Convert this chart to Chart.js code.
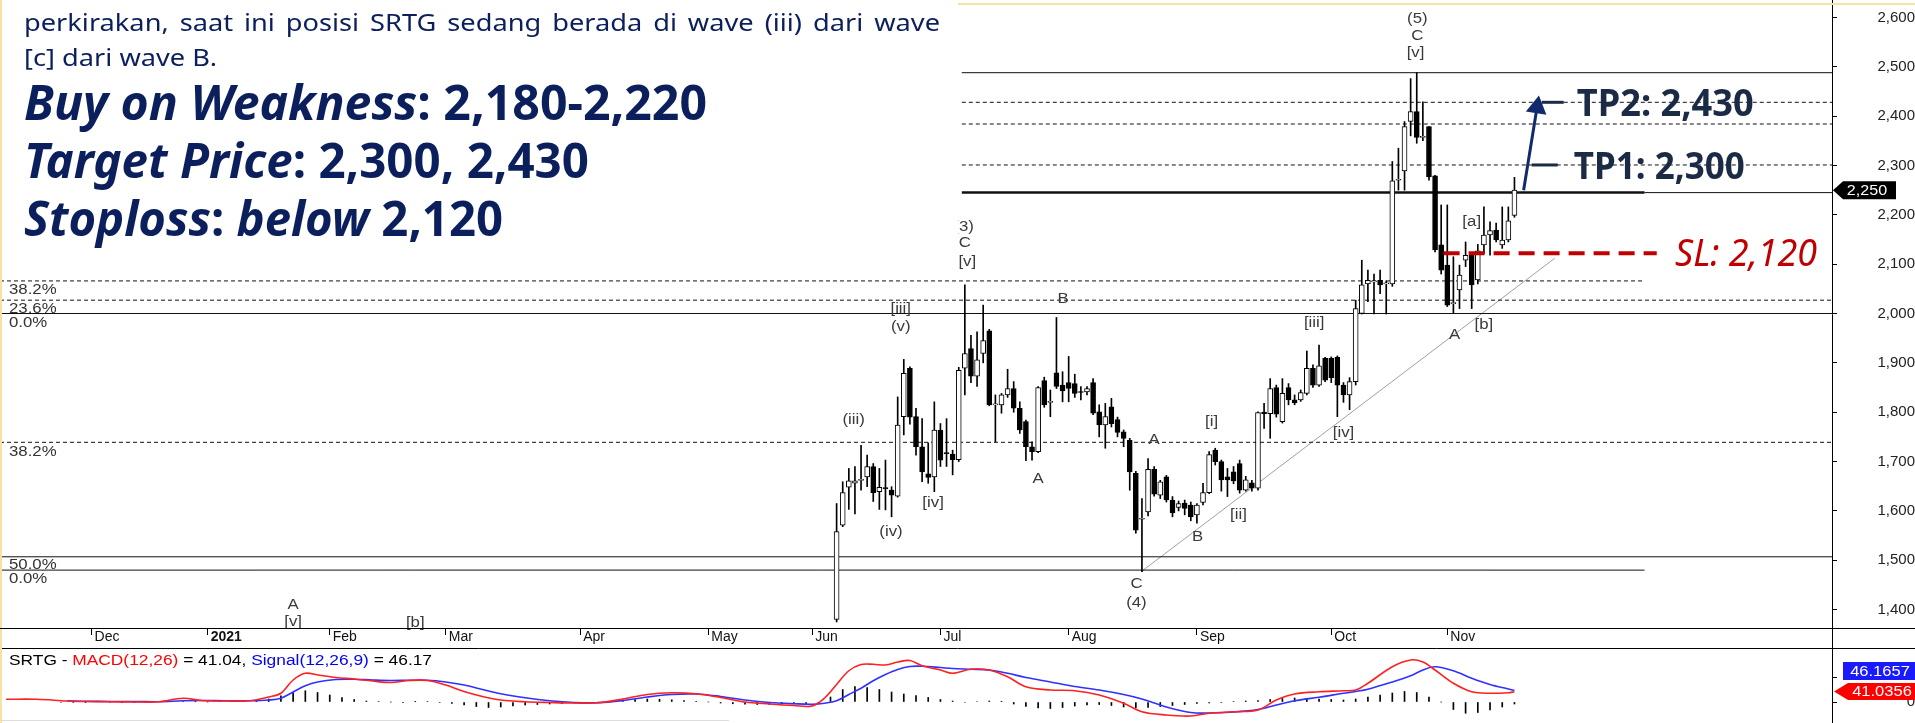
<!DOCTYPE html>
<html>
<head>
<meta charset="utf-8">
<script src="https://cdn.jsdelivr.net/npm/chart.js@4.4.1/dist/chart.umd.min.js"></script>
<style>
  html, body { margin: 0; padding: 0; background: #fff; overflow: hidden; }
  #wrap { position: relative; width: 1915px; height: 723px; overflow: hidden; }
  #price { position: absolute; left: 0; top: 0; }
  #macd { position: absolute; left: 0; top: 648px; }
</style>
</head>
<body>
<div id="wrap">
  <canvas id="price" width="1915" height="648"></canvas>
  <canvas id="macd" width="1915" height="75"></canvas>
</div>
<script>
// x values are trading-day numbers counted from the left edge of the chart (mid Nov 2020)
var monthIdx = [15, 34, 54, 73, 95, 116, 133, 154, 175, 196, 218, 237];
var monthNames = ['Dec', '2021', 'Feb', 'Mar', 'Apr', 'May', 'Jun', 'Jul', 'Aug', 'Sep', 'Oct', 'Nov'];
var priceTicks = [1400, 1500, 1600, 1700, 1800, 1900, 2000, 2100, 2200, 2300, 2400, 2500, 2600];

// SRTG daily candles, first one on day 137 (early June 2021)
var firstBar = 137;
var opens = [1380,1571,1648,1656,1662,1669,1690,1639,1646,1642,1630,1791,1889,1791,1730,1675,1669,1764,1717,1715,
  1704,1889,1929,1873,1919,1965,1815,1815,1835,1848,1808,1781,1730,1720,1864,1820,1880,1855,1860,1858,
  1841,1841,1860,1801,1774,1811,1785,1760,1743,1676,1583,1598,1684,1632,1669,1622,1607,1616,1612,1592,
  1617,1637,1723,1700,1669,1679,1696,1642,1657,1646,1800,1797,1850,1781,1850,1825,1825,1838,1889,1855,
  1909,1909,1911,1855,1835,1862,2000,2060,2064,2067,2060,2060,2270,2289,2389,2409,2357,2379,2279,2139,
  2098,2020,2048,2108,2118,2068,2139,2159,2169,2139,2149,2199];
var highs = [1615,1659,1686,1690,1733,1713,1696,1686,1703,1649,1831,1907,1892,1808,1787,1738,1821,1777,1787,1723,
  1891,2058,1956,1963,2017,1968,1835,1838,1887,1862,1821,1784,1740,1852,1871,1845,1992,1882,1913,1877,
  1852,1852,1868,1815,1818,1828,1790,1764,1747,1680,1625,1706,1690,1662,1672,1629,1620,1622,1618,1615,
  1656,1720,1727,1703,1686,1690,1703,1670,1662,1801,1818,1868,1855,1868,1858,1835,1845,1924,1896,1936,
  1911,1912,1914,1860,1870,2027,2108,2088,2080,2088,2066,2308,2335,2389,2476,2488,2429,2379,2280,2220,
  2220,2115,2098,2145,2122,2140,2216,2186,2183,2216,2216,2276];
var lows = [1375,1568,1603,1594,1642,1649,1619,1603,1602,1588,1628,1754,1776,1713,1659,1656,1639,1690,1690,1673,
  1700,1835,1860,1852,1900,1813,1740,1798,1830,1800,1757,1702,1703,1718,1810,1791,1848,1821,1821,1830,
  1825,1835,1795,1750,1727,1770,1750,1730,1642,1555,1477,1590,1630,1625,1618,1588,1600,1592,1580,1575,
  1612,1635,1693,1640,1629,1655,1636,1640,1640,1642,1767,1747,1790,1778,1815,1815,1822,1835,1850,1852,
  1862,1860,1791,1820,1805,1855,1999,2024,1999,2040,1999,2055,2250,2250,2360,2345,2350,2270,2125,2080,
  2014,2001,2010,2095,2010,2060,2122,2118,2145,2132,2145,2195];
var closes = [1558,1637,1661,1661,1663,1690,1637,1648,1645,1632,1774,1879,1790,1730,1679,1668,1764,1703,1716,1704,
  1885,1919,1873,1906,1945,1815,1815,1835,1848,1808,1764,1730,1720,1850,1815,1821,1852,1843,1848,1838,
  1840,1848,1798,1774,1791,1777,1759,1747,1679,1561,1584,1684,1634,1659,1622,1596,1615,1605,1588,1612,
  1637,1714,1700,1663,1663,1661,1642,1663,1646,1799,1797,1848,1796,1838,1825,1819,1840,1889,1855,1894,
  1865,1870,1855,1835,1862,2010,2058,2067,2065,2058,2060,2269,2272,2379,2409,2357,2357,2277,2129,2088,
  2017,2020,2078,2118,2058,2127,2159,2168,2149,2149,2188,2250];

// horizontal retracement / target levels
var levelPrices = [2488, 2428, 2384, 2301, 2245, 2245, 2066, 2027, 2000, 1739, 1507, 1480];
var levelStart  = [157.5, 157.5, 157.5, 157.5, 157.5, 269.3, 0, 0, 0, 0, 0, 0];
var levelEnd    = [300, 300, 300, 300, 269.3, 300, 269.3, 300, 300, 300, 300, 269.3];

var fibText  = ['38.2%', '23.6%', '0.0%', '38.2%', '50.0%', '0.0%'];
var fibPrice = [2047, 2009, 1981, 1720, 1491, 1461];

var trendX = [187, 254.6];
var trendY = [1478, 2112];
var slX = [236.4, 271.3];
var slPrice = 2122;
var arrowX = [249.5, 251.7];
var arrowY = [2250, 2418];

var waveText = ['(5)','C','[v]','(3)','C','[v]','[iii]','(v)','(iii)','(iv)','[iv]','B','A','A','C','(4)','[i]','B','[ii]','[iii]','[iv]','A','[b]','[a]','A','[v]','[b]'];
var waveX = [232.1,232.1,231.8,157.8,158.0,158.4,147.5,147.5,139.8,145.9,152.8,174.1,170.0,189.0,186.1,186.1,198.4,196.1,202.8,215.2,220.0,238.2,243.0,241.0,48.0,48.0,68.0];
var waveY = [2597,2562,2528,2175,2143,2104,2009,1973,1784,1557,1616,2029,1665,1744,1452,1413,1780,1547,1592,1981,1758,1956,1977,2185,1409,1375,1373];

var tpText = ['TP2: 2,430', 'TP1: 2,300'];
var tpLevel = [2428, 2301];
var slText = 'SL: 2,120';
var lastClose = '2,250';

// MACD(12,26) and signal, read every few days
var macdX = [1,6,11,14,18,22,26,30,33,37,41,44,46,48,50,52,55,58,61,64,67,70,73,76,79,82,86,90,94,98,
  102,106,110,114,118,122,126,130,133,135,137,139,141,143,145,147,149,151,154,156,159,162,165,168,172,176,180,184,187,191,
  195,198,202,206,209,212,216,220,222,224,228,231,233,235,238,241,244,247,248];
var macdLine = [11,11,4,2,1,0,1,15,6,4,5,20,35,88,115,108,98,92,84,78,86,86,68,42,22,8,1,-2,-4,-3,
  12,30,37,33,18,0,-8,-14,-16,15,70,125,150,151,148,160,166,145,128,115,131,128,101,61,48,45,28,-5,-39,-52,
  -56,-45,-39,-32,8,32,41,45,48,75,141,168,160,128,75,41,35,37,41];
var signalLine = [null,null,5,3,2,2,1,5,6,5,5,8,15,40,65,80,90,91,88,86,87,87,80,68,50,33,17,5,-2,-3,
  6,20,30,32,22,8,-2,-7,-9,-5,5,30,55,85,110,130,142,143,138,134,131,128,115,98,80,62,48,30,12,-20,
  -42,-44,-40,-30,-12,5,19,35,42,51,80,105,128,141,125,95,70,52,46];
// histogram, every second day from day 10
var histStart = 10;
var histValues = [-2,-2,-1,2,-2,-1,-1,0,2,3,2,1,0,1,2,3,4, 12,25,38,45,38,28,18,10,4, 2,0,-1,1,2,-2,-6,
  -12,-18,-22,-20,-16,-12,-10,-8, -6,-4,-2,0,4, 8,10,12,11,9,6,3,0, -4,-7,-9,-10,-10,-9,-8,-7,-5,
  20,50,62,58,50,40,32,26, 18,10,4,-2,2,4,3, -8,-18,-24,-26,-22,-16,-12,-10, -14,-20,-24,-22,-18,-14,-10,-6,-4,
  -2,2,4,6,10,14,16, 14,12,10,8,12,20,28, 36,42,38,20,0, -30,-45,-42,-32,-20,-8];

var introLines = ['perkirakan, saat ini posisi SRTG sedang berada di wave (iii) dari wave', '[c] dari wave B.'];

var INK = '#0B1F5C';
var SMALL = '14px "Liberation Sans", Arial, sans-serif';

function stretchText(ctx, str, x, y, sx, align) {
  ctx.save();
  ctx.translate(x, y);
  ctx.scale(sx, 1);
  ctx.textAlign = align || 'left';
  ctx.fillText(str, 0, 0);
  ctx.restore();
}

// segments: [text, font, color]; squeezed or stretched to a target width
function richLine(ctx, segs, x, y, targetW) {
  var total = 0, widths = [];
  segs.forEach(function(s) { ctx.font = s[1]; var w = ctx.measureText(s[0]).width; widths.push(w); total += w; });
  ctx.save();
  ctx.translate(x, y);
  ctx.scale(targetW / total, 1);
  ctx.textAlign = 'left';
  var cx = 0;
  segs.forEach(function(s, i) { ctx.font = s[1]; ctx.fillStyle = s[2]; ctx.fillText(s[0], cx, 0); cx += widths[i]; });
  ctx.restore();
}

function justify(ctx, str, x, y, width, sx) {
  var words = str.split(' ');
  var ws = words.map(function(w) { return ctx.measureText(w).width * sx; });
  var total = ws.reduce(function(a, b) { return a + b; }, 0);
  var gap = (width - total) / (words.length - 1);
  var cx = x;
  words.forEach(function(w, i) { stretchText(ctx, w, cx, y, sx, 'left'); cx += ws[i] + gap; });
}

var bodies = [], bodyColors = [], wicks = [];
for (var i = 0; i < opens.length; i++) {
  wicks.push({ x: firstBar + i, y: [lows[i], highs[i]] });
  bodies.push({ x: firstBar + i, y: [Math.min(opens[i], closes[i]), Math.max(opens[i], closes[i])] });
  bodyColors.push(closes[i] >= opens[i] ? '#ffffff' : '#000000');
}

var dashedLevels = [false, true, true, true, false, false, true, true, false, true, false, false];
var datasets = [
  { type: 'bar', data: bodies, backgroundColor: bodyColors, borderColor: '#000', borderWidth: 1,
    borderSkipped: false, barThickness: 5, minBarLength: 1, grouped: false, order: 1 },
  { type: 'bar', data: wicks, backgroundColor: '#000', barThickness: 1, grouped: false, order: 2 }
];
levelPrices.forEach(function(p, k) {
  datasets.push({ type: 'line', data: [{ x: levelStart[k], y: p }, { x: levelEnd[k], y: p }],
    borderColor: '#111', borderWidth: (k === 4) ? 2.5 : 1, borderDash: dashedLevels[k] ? [4, 3] : [],
    pointRadius: 0, order: 3 });
});
datasets.push({ type: 'line', data: [{ x: trendX[0], y: trendY[0] }, { x: trendX[1], y: trendY[1] }],
  borderColor: '#a0a0a0', borderWidth: 1, pointRadius: 0, order: 3 });
datasets.push({ type: 'line', data: [{ x: slX[0], y: slPrice }, { x: slX[1], y: slPrice }],
  borderColor: '#C00000', borderWidth: 4, borderDash: [16, 9], pointRadius: 0, order: 0 });
datasets.push({ type: 'line', data: [{ x: arrowX[0], y: arrowY[0] }, { x: arrowX[1], y: arrowY[1] }],
  borderColor: '#102A6B', borderWidth: 3, pointRadius: [0, 9], pointStyle: 'triangle', pointRotation: 9,
  pointBackgroundColor: '#102A6B', pointBorderColor: '#102A6B', order: 0 });

var overlay = {
  id: 'overlay',
  afterDatasetsDraw: function(chart) {
    var ctx = chart.ctx, xs = chart.scales.x, ys = chart.scales.y;
    ctx.save();
    ctx.font = SMALL;
    ctx.textBaseline = 'middle';
    ctx.fillStyle = '#3a3a3a';
    waveText.forEach(function(t, k) {
      stretchText(ctx, t, xs.getPixelForValue(waveX[k]), ys.getPixelForValue(waveY[k]), 1.2, 'center');
    });
    ctx.fillStyle = '#333';
    fibText.forEach(function(t, k) {
      stretchText(ctx, t, 9, ys.getPixelForValue(fibPrice[k]), 1.2, 'left');
    });

    // target labels
    ctx.textBaseline = 'alphabetic';
    var tpLeft = xs.getPixelForValue(258.2);
    var tpWidths = [177, 171];
    ctx.strokeStyle = '#1C2B45';
    ctx.lineWidth = 3;
    tpText.forEach(function(t, k) {
      var ly = ys.getPixelForValue(tpLevel[k]);
      richLine(ctx, [[t, 'bold 38px "Noto Sans"', '#1C2B45']], tpLeft - (k ? 3 : 0), ly + 14, tpWidths[k]);
      ctx.beginPath();
      ctx.moveTo(tpLeft - (k ? 45 : 35), ly);
      ctx.lineTo(tpLeft - (k ? 19 : 13), ly);
      ctx.stroke();
    });
    richLine(ctx, [[slText, 'italic 39px "Noto Sans"', '#C00000']],
      xs.getPixelForValue(274.3), ys.getPixelForValue(slPrice) + 13, 142);
    ctx.restore();
  },
  afterDraw: function(chart) {
    var ctx = chart.ctx, area = chart.chartArea, ys = chart.scales.y;
    ctx.save();
    // note box over the upper left corner
    ctx.fillStyle = '#fff';
    ctx.fillRect(0, 0, 958, 272);
    ctx.fillStyle = INK;
    ctx.textBaseline = 'alphabetic';
    ctx.font = '24px "Noto Sans"';
    var sxBody = 193 / ctx.measureText(introLines[1]).width;
    justify(ctx, introLines[0], 24, 31, 916, sxBody);
    stretchText(ctx, introLines[1], 24, 66, sxBody, 'left');
    var bi = 'italic bold 48px "Noto Sans"', bu = 'bold 48px "Noto Sans"';
    richLine(ctx, [['Buy on Weakness', bi, INK], [': 2,180-2,220', bu, INK]], 24, 120, 683);
    richLine(ctx, [['Target Price', bi, INK], [': 2,300, 2,430', bu, INK]], 24, 178, 565);
    richLine(ctx, [['Stoploss', bi, INK], [': ', bu, INK], ['below', bi, INK], [' 2,120', bu, INK]], 24, 236, 479);

    // frame
    ctx.fillStyle = '#F7E3A1';
    ctx.fillRect(0, 0, 2, 648);
    ctx.fillRect(958, 3, 957, 2);
    ctx.strokeStyle = '#000';
    ctx.lineWidth = 1;
    ctx.beginPath();
    ctx.moveTo(0, area.bottom + 0.5); ctx.lineTo(1915, area.bottom + 0.5);
    ctx.moveTo(area.right + 0.5, area.bottom); ctx.lineTo(area.right + 0.5, 648);
    ctx.stroke();

    // last price tag
    var ty = ys.getPixelForValue(2250);
    ctx.fillStyle = '#000';
    ctx.beginPath();
    ctx.moveTo(area.right + 1, ty);
    ctx.lineTo(area.right + 11, ty - 9);
    ctx.lineTo(1896, ty - 9);
    ctx.lineTo(1896, ty + 9);
    ctx.lineTo(area.right + 11, ty + 9);
    ctx.closePath();
    ctx.fill();
    ctx.fillStyle = '#fff';
    ctx.font = SMALL;
    ctx.textBaseline = 'middle';
    stretchText(ctx, lastClose, 1867, ty + 1, 1.15, 'center');
    ctx.restore();
  }
};

new Chart(document.getElementById('price'), {
  type: 'bar',
  data: { datasets: datasets },
  options: {
    responsive: false,
    animation: false,
    events: [],
    layout: { padding: 0, autoPadding: false },
    plugins: { legend: { display: false }, tooltip: { enabled: false } },
    scales: {
      x: {
        type: 'linear', min: 0, max: 300, offset: false, position: 'bottom',
        afterBuildTicks: function(s) { s.ticks = monthIdx.map(function(v) { return { value: v }; }); },
        afterFit: function(s) { s.height = 20; s.paddingLeft = 0; s.paddingRight = 0; },
        grid: { drawOnChartArea: false, offset: false, tickLength: 7, color: '#000' },
        border: { display: true, color: '#000' },
        ticks: {
          autoSkip: false, maxRotation: 0, align: 'start', padding: -6, labelOffset: 3, color: '#111',
          font: function(c) { return { family: 'Liberation Sans', size: 14, weight: c.index === 1 ? 'bold' : 'normal' }; },
          callback: function(v, k) { return monthNames[k]; }
        }
      },
      y: {
        position: 'right', min: 1362.7, max: 2635.3,
        afterBuildTicks: function(s) { s.ticks = priceTicks.map(function(v) { return { value: v }; }); },
        afterFit: function(s) { s.width = 83; s.paddingTop = 0; s.paddingBottom = 0; },
        grid: { drawOnChartArea: false, tickLength: 5, color: '#000' },
        border: { display: true, color: '#000' },
        ticks: {
          crossAlign: 'far', padding: 35, color: '#222',
          font: { family: 'Liberation Sans', size: 15 },
          callback: function(v) { return v.toLocaleString('en-US'); }
        }
      }
    }
  },
  plugins: [overlay]
});

var macdOverlay = {
  id: 'macdOverlay',
  afterDraw: function(chart) {
    var ctx = chart.ctx, area = chart.chartArea;
    ctx.save();
    ctx.strokeStyle = '#000';
    ctx.lineWidth = 1;
    ctx.beginPath();
    ctx.moveTo(0, 0.5); ctx.lineTo(1915, 0.5);
    ctx.stroke();
    ctx.strokeStyle = '#ddd';
    ctx.beginPath();
    ctx.moveTo(0, 72.5); ctx.lineTo(729, 72.5);
    ctx.stroke();
    ctx.fillStyle = '#F7E3A1';
    ctx.fillRect(0, 0, 2, 75);

    ctx.textBaseline = 'middle';
    var f = SMALL;
    richLine(ctx, [['SRTG - ', f, '#000'], ['MACD(12,26)', f, '#ff0000'], [' = 41.04, ', f, '#000'],
      ['Signal(12,26,9)', f, '#0000ff'], [' = 46.17', f, '#000']], 9, 13, 423);

    // value tags
    ctx.fillStyle = '#1a1aff';
    ctx.fillRect(1843, 14, 72, 18);
    ctx.fillStyle = '#ff0000';
    ctx.beginPath();
    ctx.moveTo(area.right + 2, 43.5);
    ctx.lineTo(1848, 35);
    ctx.lineTo(1915, 35);
    ctx.lineTo(1915, 52);
    ctx.lineTo(1848, 52);
    ctx.closePath();
    ctx.fill();
    ctx.fillStyle = '#fff';
    ctx.font = '15px "Liberation Sans", Arial, sans-serif';
    stretchText(ctx, '46.1657', 1880, 24, 1.1, 'center');
    stretchText(ctx, '41.0356', 1882, 44, 1.1, 'center');
    ctx.restore();
  }
};

new Chart(document.getElementById('macd'), {
  type: 'bar',
  data: {
    datasets: [
      { type: 'line', data: macdX.map(function(x, k) { return { x: x, y: macdLine[k] }; }),
        borderColor: '#ff2020', borderWidth: 1.6, pointRadius: 0, tension: 0.35, order: 0 },
      { type: 'line', data: macdX.map(function(x, k) { return { x: x, y: signalLine[k] }; }),
        borderColor: '#3030ff', borderWidth: 1.6, pointRadius: 0, tension: 0.35, order: 1 },
      { type: 'bar', data: histValues.map(function(v, k) { return { x: histStart + 2 * k, y: v }; }),
        backgroundColor: '#000', barThickness: 1, grouped: false, order: 2 }
    ]
  },
  options: {
    responsive: false,
    animation: false,
    events: [],
    layout: { padding: 0, autoPadding: false },
    plugins: { legend: { display: false }, tooltip: { enabled: false } },
    scales: {
      x: { type: 'linear', min: 0, max: 300, offset: false, display: false },
      y: {
        position: 'right', min: -84, max: 216,
        afterBuildTicks: function(s) { s.ticks = [{ value: 0 }, { value: 100 }]; },
        afterFit: function(s) { s.width = 83; s.paddingTop = 0; s.paddingBottom = 0; },
        grid: { drawOnChartArea: false, tickLength: 5, color: '#000' },
        border: { display: true, color: '#000' },
        ticks: {
          crossAlign: 'far', padding: 66, color: '#222',
          font: { family: 'Liberation Sans', size: 15 },
          callback: function(v) { return v === 0 ? '0' : ''; }
        }
      }
    }
  },
  plugins: [macdOverlay]
});
</script>
</body>
</html>
